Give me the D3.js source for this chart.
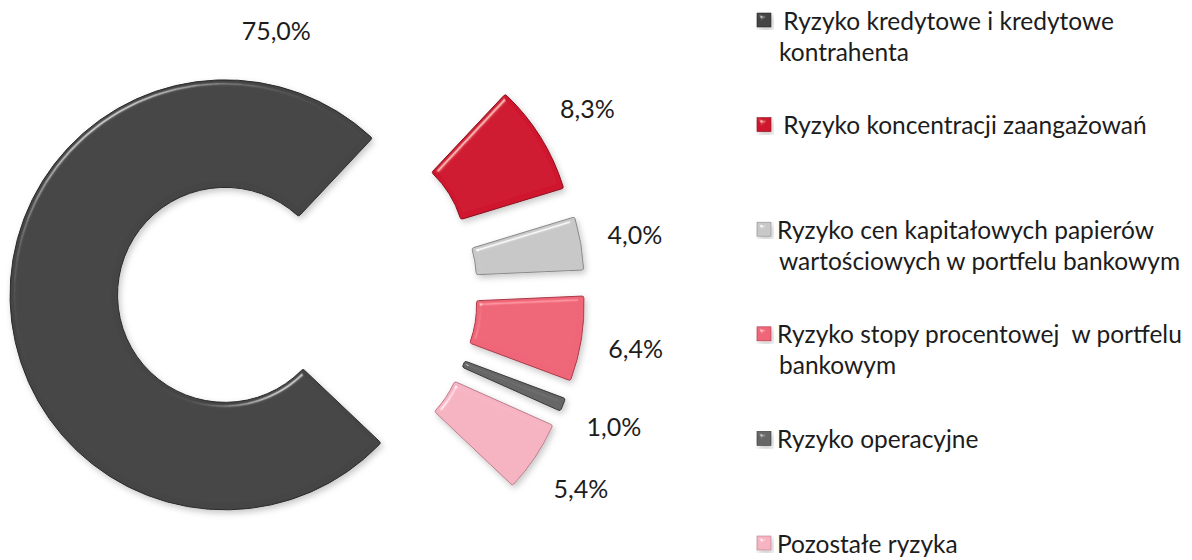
<!DOCTYPE html>
<html>
<head>
<meta charset="utf-8">
<script src="https://cdn.jsdelivr.net/npm/d3@7"></script>
<style>
  html, body { margin: 0; padding: 0; background: #fff; }
  svg text { font-family: Lato, "Open Sans", sans-serif; fill: #1c1c1c; white-space: pre; }
</style>
</head>
<body>
<script>
// values (sum is 100.1 because of rounding)
const values = [75.0, 8.3, 4.0, 6.4, 1.0, 5.4];
const categories = [
  [' Ryzyko kredytowe i kredytowe', 'kontrahenta'],
  [' Ryzyko koncentracji zaangażowań'],
  ['Ryzyko cen kapitałowych papierów', 'wartościowych w portfelu bankowym'],
  ['Ryzyko stopy procentowej  w portfelu', 'bankowym'],
  ['Ryzyko operacyjne'],
  ['Pozostałe ryzyka']
];
const colors = ['#444444', '#cf172e', '#c8c8c8', '#ee6678', '#666666', '#f6b3c2'];
const strokes = ['#2a2a2a', '#8a0c1c', '#8a8a8a', '#a93a4a', '#383838', '#bb7c8b'];

const width = 1192;
const height = 560;
const cx = 290, cy = 293;
const outerR = 215, innerR = 107.5;
const startDeg = 133.5;
const explode = [65, 80, 80, 80, 80, 80];
const labelR = 350;

const pl = d3.formatLocale({ decimal: ',', thousands: ' ', grouping: [3], currency: ['', ' zł'] });
const fmt = v => pl.format('.1f')(v) + '%';

const svg = d3.select('body')
  .append('svg')
  .attr('width', width)
  .attr('height', height);

// bevel (highlights only on the rim) + soft shadow
const defs = svg.append('defs');
const f = defs.append('filter')
  .attr('id', 'bevel')
  .attr('x', '-20%').attr('y', '-20%')
  .attr('width', '140%').attr('height', '140%');
f.append('feGaussianBlur').attr('in', 'SourceAlpha').attr('stdDeviation', 2.5).attr('result', 'blur');
const spec = f.append('feSpecularLighting')
  .attr('in', 'blur')
  .attr('surfaceScale', 5)
  .attr('specularConstant', 0.9)
  .attr('specularExponent', 40)
  .attr('lighting-color', '#ffffff')
  .attr('result', 'spec');
spec.append('feDistantLight').attr('azimuth', 235).attr('elevation', 35);
f.append('feComposite').attr('in', 'spec').attr('in2', 'SourceAlpha').attr('operator', 'in').attr('result', 'specOut');
f.append('feComposite').attr('in', 'SourceGraphic').attr('in2', 'specOut')
  .attr('operator', 'arithmetic').attr('k1', 0).attr('k2', 1).attr('k3', 0.6).attr('k4', 0).attr('result', 'lit');
f.append('feGaussianBlur').attr('in', 'SourceAlpha').attr('stdDeviation', 3).attr('result', 'sblur');
f.append('feOffset').attr('in', 'sblur').attr('dx', 2).attr('dy', 3).attr('result', 'soff');
f.append('feFlood').attr('flood-color', '#000').attr('flood-opacity', 0.22).attr('result', 'sc');
f.append('feComposite').attr('in', 'sc').attr('in2', 'soff').attr('operator', 'in').attr('result', 'shadow');
const merge = f.append('feMerge');
merge.append('feMergeNode').attr('in', 'shadow');
merge.append('feMergeNode').attr('in', 'lit');

const pie = d3.pie()
  .sort(null)
  .value(d => d)
  .startAngle(startDeg * Math.PI / 180)
  .endAngle(startDeg * Math.PI / 180 + 2 * Math.PI);

const arc = d3.arc()
  .innerRadius(innerR)
  .outerRadius(outerR)
  .cornerRadius(2);

const arcs = pie(values);
const mid = d => (d.startAngle + d.endAngle) / 2;

const g = svg.append('g').attr('transform', `translate(${cx},${cy})`);

g.selectAll('path.slice')
  .data(arcs)
  .enter()
  .append('path')
  .attr('class', 'slice')
  .attr('transform', (d, i) => `translate(${Math.sin(mid(d)) * explode[i]},${-Math.cos(mid(d)) * explode[i]})`)
  .attr('d', arc)
  .attr('fill', (d, i) => colors[i])
  .attr('stroke', (d, i) => strokes[i])
  .attr('stroke-width', 1)
  .attr('filter', 'url(#bevel)');

// data labels: small slices outside along the bisector, the big one sits above the ring
const labelAngle = (d, i) => i === 0 ? -3 * Math.PI / 180 : mid(d);
const labelDist = (d, i) => i === 0 ? 263 : labelR;

g.selectAll('text.pct')
  .data(arcs)
  .enter()
  .append('text')
  .attr('class', 'pct')
  .attr('x', (d, i) => Math.sin(labelAngle(d, i)) * labelDist(d, i))
  .attr('y', (d, i) => -Math.cos(labelAngle(d, i)) * labelDist(d, i))
  .attr('text-anchor', 'middle')
  .attr('dominant-baseline', 'central')
  .attr('font-size', 25)
  .text(d => fmt(d.data));

// legend
const legendX = 757;
const legendY = d3.scaleLinear().domain([0, categories.length - 1]).range([20, 543]);

const leg = svg.append('g').selectAll('g')
  .data(categories)
  .enter()
  .append('g')
  .attr('transform', (d, i) => `translate(${legendX},${legendY(i)})`);

leg.append('rect')
  .attr('x', 0)
  .attr('y', -7)
  .attr('width', 14)
  .attr('height', 14)
  .attr('fill', (d, i) => colors[i])
  .attr('stroke', (d, i) => strokes[i])
  .attr('stroke-width', 0.6)
  .attr('filter', 'url(#bevel)');

leg.append('text')
  .attr('font-size', 24.5)
  .selectAll('tspan')
  .data(d => d)
  .enter()
  .append('tspan')
  .attr('x', (d, j) => j === 0 ? 20 : 22)
  .attr('y', (d, j) => j * 31)
  .attr('dominant-baseline', 'central')
  .text(d => d);
</script>
</body>
</html>
